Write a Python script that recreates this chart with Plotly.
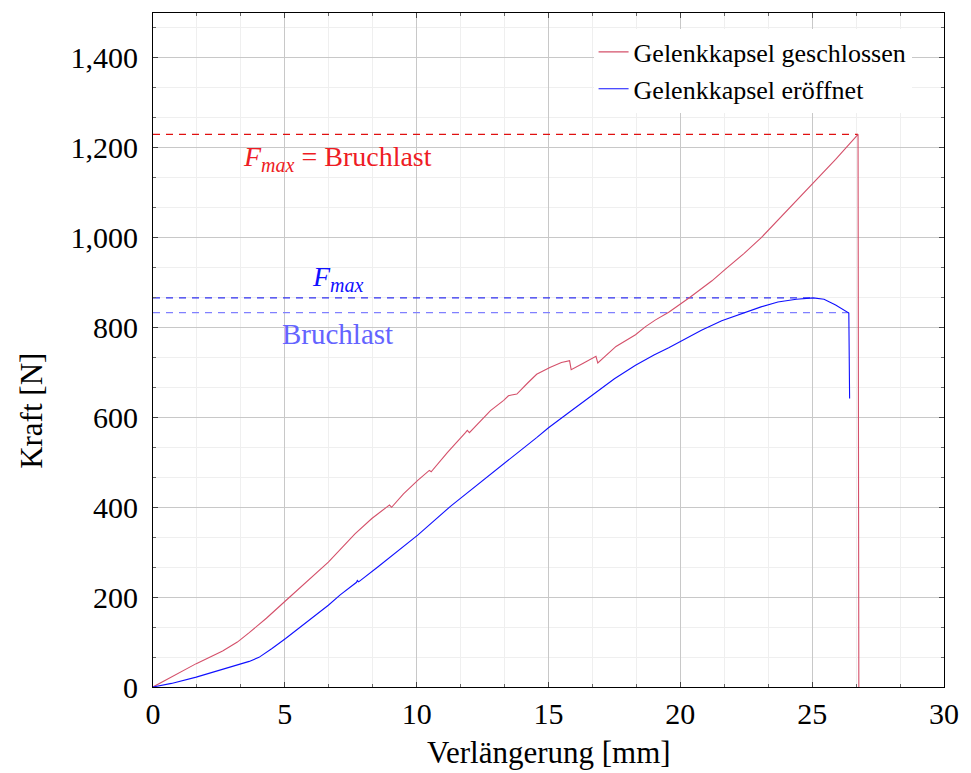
import plotly.graph_objects as go

# Gelenkkapsel geschlossen
x_closed = [0, 1.64, 2.64, 3.2, 3.65, 4.3, 5.03, 5.8, 6.28, 6.65, 7.66, 8.3, 8.9, 8.97, 9.05,
            9.5, 10.04, 10.4, 10.48, 10.55, 11.17, 11.85, 11.92, 12.0, 12.8, 13.3, 13.48, 13.6,
            13.8, 14.2, 14.55, 15.05, 15.49, 15.8, 15.86, 16.3, 16.8, 16.87, 17.56, 18.3, 18.68,
            19.06, 19.56, 20.38, 21.2, 21.69, 22.4, 23.07, 24.07, 25.04, 25.89, 26.74, 26.77]
y_closed = [0, 52, 80, 100, 121, 153, 192, 233, 259, 278, 341, 375, 402, 405, 400,
            430, 460, 479, 482, 479, 522, 566, 571, 566, 615, 638, 648, 650,
            652, 676, 696, 711, 722, 726, 706, 720, 736, 721, 758, 784, 802,
            817, 834, 868, 904, 929, 964, 1000, 1061, 1121, 1174, 1230, 0]

# Gelenkkapsel eröffnet
x_open = [0, 0.7, 1.64, 2.6, 3.2, 3.65, 4.02, 4.5, 5.03, 5.8, 6.65, 7.1, 7.72, 7.75, 7.8, 8.5,
          9.22, 10.04, 11.28, 12.5, 13.8, 14.55, 15.0, 15.8, 16.8, 17.5, 18.3, 19.0, 19.56,
          20.06, 20.8, 21.57, 22.32, 23.06, 23.7, 24.4, 25.04, 25.45, 25.89, 26.3, 26.39, 26.42]
y_open = [0, 8, 22, 38, 48, 57, 66, 85, 108, 143, 182, 205, 233, 237, 234, 266,
          300, 338, 402, 460, 520, 555, 577, 612, 656, 686, 716, 739, 755,
          770, 794, 815, 831, 846, 857, 863, 866, 863, 850, 836, 832, 642]

# Reference lines
fmax_closed = 1230
fmax_open = 866
bruch_open = 833
x_fmax_closed_end = 26.74
x_fmax_open_end = 25.04
x_bruch_open_end = 26.39

FONT = "Liberation Serif"
FMAX = "<i>F</i><sub><span style='font-size:20px'><i>max</i></span></sub>"

fig = go.Figure()

fig.add_trace(go.Scatter(x=[0, x_fmax_closed_end], y=[fmax_closed, fmax_closed], mode="lines",
                         line=dict(color="#e01010", width=1.2, dash="7px,6px"),
                         showlegend=False, hoverinfo="skip"))
fig.add_trace(go.Scatter(x=[0, x_fmax_open_end], y=[fmax_open, fmax_open], mode="lines",
                         line=dict(color="#3030f0", width=1.2, dash="7px,6px"),
                         showlegend=False, hoverinfo="skip"))
fig.add_trace(go.Scatter(x=[0, x_bruch_open_end], y=[bruch_open, bruch_open], mode="lines",
                         line=dict(color="#8080ff", width=1.2, dash="7px,6px"),
                         showlegend=False, hoverinfo="skip"))

fig.add_trace(go.Scatter(x=x_closed, y=y_closed, mode="lines", name="Gelenkkapsel geschlossen",
                         line=dict(color="#d4506a", width=1.1)))
fig.add_trace(go.Scatter(x=x_open, y=y_open, mode="lines", name="Gelenkkapsel eröffnet",
                         line=dict(color="#1010ff", width=1.1)))

fig.add_annotation(x=7, y=1177, text=FMAX + " = Bruchlast",
                   showarrow=False, font=dict(family=FONT, size=28, color="#ee1c24"))
fig.add_annotation(x=7, y=910, text=FMAX,
                   showarrow=False, font=dict(family=FONT, size=28, color="#1010ff"))
fig.add_annotation(x=7, y=786, text="Bruchlast",
                   showarrow=False, font=dict(family=FONT, size=29, color="#6464ff"))

# axis titles
fig.add_annotation(xref="paper", yref="paper", x=0.5, y=-0.097, text="Verlängerung [mm]",
                   showarrow=False, yanchor="middle", font=dict(family=FONT, size=31, color="black"))
fig.add_annotation(xref="paper", yref="paper", x=-0.154, y=0.41, text="Kraft [N]", textangle=-90,
                   showarrow=False, xanchor="center", font=dict(family=FONT, size=31, color="black"))

axis_common = dict(showline=True, linecolor="black", linewidth=1.2, mirror="allticks",
                   ticks="inside", ticklen=5, tickcolor="#444", showgrid=True,
                   gridcolor="#c8c8c8", gridwidth=1, zeroline=False, ticklabeloverflow="allow",
                   tickfont=dict(family=FONT, size=30, color="black"))

fig.update_xaxes(range=[0, 30], dtick=5, tick0=0,
                 minor=dict(dtick=5/3, showgrid=True, gridcolor="#efefef", ticks="inside",
                            ticklen=3, tickcolor="#666"),
                 **axis_common)
fig.update_yaxes(range=[0, 1500], dtick=200, tick0=0, tickformat=",d", ticklabelstandoff=8,
                 minor=dict(dtick=200/3, showgrid=True, gridcolor="#efefef", ticks="inside",
                            ticklen=3, tickcolor="#666"),
                 **axis_common)

fig.update_layout(
    width=971, height=773,
    margin=dict(l=153, r=20, t=12, b=86),
    plot_bgcolor="white", paper_bgcolor="white",
    font=dict(family=FONT, color="black"),
    legend=dict(x=0.959, y=0.977, xanchor="right", yanchor="top",
                bgcolor="white", borderwidth=0,
                font=dict(family=FONT, size=26, color="black"),
                tracegroupgap=0),
)

fig.write_html("out.html")
